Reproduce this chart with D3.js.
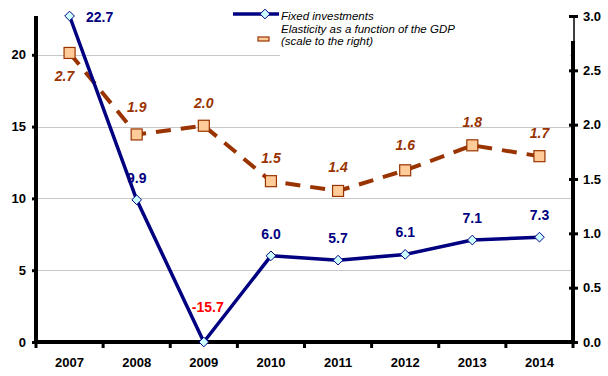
<!DOCTYPE html>
<html>
<head>
<meta charset="utf-8">
<script src="https://cdn.jsdelivr.net/npm/d3@7/dist/d3.min.js"></script>
<style>
  html, body { margin: 0; padding: 0; background: #fff; }
  svg { display: block; font-family: "Liberation Sans", Arial, sans-serif; }
</style>
</head>
<body>
<svg id="chart" width="608" height="376"></svg>
<script>
// Years on the category axis
const years = ["2007", "2008", "2009", "2010", "2011", "2012", "2013", "2014"];
// Fixed investments, % (left scale)
const fixedInvestments = [22.7, 9.9, -15.7, 6.0, 5.7, 6.1, 7.1, 7.3];
// Elasticity as a function of the GDP (right scale)
const elasticity = [2.66, 1.91, 1.99, 1.48, 1.39, 1.58, 1.81, 1.71];
// Axis ticks
const leftTicks = [0, 5, 10, 15, 20];
const rightTicks = [0, 0.5, 1.0, 1.5, 2.0, 2.5, 3.0];
const seriesNames = ["Fixed investments", "Elasticity as a function of the GDP", "(scale to the right)"];

const svg = d3.select("#chart");
const plot = { left: 36, right: 573, top: 16, bottom: 342 };

const x = d3.scaleBand().domain(years).range([plot.left, plot.right]).paddingInner(0).paddingOuter(0);
const cx = d => x(d) + x.bandwidth() / 2;
const yL = d3.scaleLinear().domain([0, 22.7]).range([plot.bottom, plot.top]).clamp(true);
const yR = d3.scaleLinear().domain([0, 3.0]).range([plot.bottom, plot.top]);

const navy = "#000080";
const brown = "#993300";
// One-decimal labels with a plain hyphen as minus sign
const fmt = d3.formatLocale({ decimal: ".", thousands: ",", grouping: [3], currency: ["", ""], minus: "-" }).format(".1f");

// Horizontal gridlines
svg.append("g").selectAll("line").data(leftTicks.filter(t => t > 0)).join("line")
  .attr("x1", plot.left).attr("x2", plot.right)
  .attr("y1", d => Math.round(yL(d)) + 0.5).attr("y2", d => Math.round(yL(d)) + 0.5)
  .attr("stroke", "#c8c8c8").attr("stroke-width", 1);

// Legend background
svg.append("rect").attr("x", 228).attr("y", 0).attr("width", 342).attr("height", 44).attr("fill", "#fff");
svg.append("rect").attr("x", 280).attr("y", 44).attr("width", 290).attr("height", 14).attr("fill", "#fff");

// Left axis
const gL = svg.append("g").attr("transform", `translate(${plot.left},0)`)
  .call(d3.axisLeft(yL).tickValues(leftTicks).tickSize(4).tickPadding(6).tickFormat(d3.format("d")));
gL.select(".domain").remove();
gL.selectAll(".tick line").attr("stroke", "#000").attr("stroke-width", 3);
gL.selectAll(".tick text").attr("font-size", 13).attr("font-weight", "bold").attr("fill", "#000");
svg.append("line").attr("x1", plot.left).attr("x2", plot.left)
  .attr("y1", plot.top).attr("y2", plot.bottom + 2).attr("stroke", "#000").attr("stroke-width", 4);

// Right axis
const gR = svg.append("g").attr("transform", `translate(${plot.right},0)`)
  .call(d3.axisRight(yR).tickValues(rightTicks).tickSize(5).tickPadding(5).tickFormat(d3.format(".1f")));
gR.select(".domain").remove();
gR.selectAll(".tick line").attr("x1", -4).attr("stroke", "#000").attr("stroke-width", 3);
gR.selectAll(".tick text").attr("font-size", 13).attr("font-weight", "bold").attr("fill", "#000");
svg.append("line").attr("x1", plot.right + 1).attr("x2", plot.right + 1)
  .attr("y1", plot.top).attr("y2", 41).attr("stroke", "#000").attr("stroke-width", 1.5);
svg.append("line").attr("x1", plot.right).attr("x2", plot.right)
  .attr("y1", 41).attr("y2", plot.bottom + 2).attr("stroke", "#000").attr("stroke-width", 4);

// Category axis
const gX = svg.append("g").attr("transform", `translate(0,${plot.bottom})`)
  .call(d3.axisBottom(x).tickSize(0).tickPadding(16));
gX.select(".domain").remove();
gX.selectAll(".tick text").attr("font-size", 13).attr("font-weight", "bold").attr("fill", "#000");
const bounds = years.map(d => x(d)).concat([plot.right]);
svg.append("g").selectAll("line").data(bounds).join("line")
  .attr("x1", d => d).attr("x2", d => d)
  .attr("y1", plot.bottom).attr("y2", plot.bottom + 6)
  .attr("stroke", "#000").attr("stroke-width", 3);
svg.append("line").attr("x1", plot.left).attr("x2", plot.right)
  .attr("y1", plot.bottom).attr("y2", plot.bottom).attr("stroke", "#000").attr("stroke-width", 4);

// Elasticity series (dashed, squares)
const lineR = d3.line().x((d, i) => cx(years[i])).y(d => yR(d));
svg.append("path").datum(elasticity).attr("d", lineR)
  .attr("fill", "none").attr("stroke", brown).attr("stroke-width", 4)
  .attr("stroke-dasharray", "15,10");
svg.append("g").selectAll("rect").data(elasticity).join("rect")
  .attr("x", (d, i) => cx(years[i]) - 5.5).attr("y", d => yR(d) - 5.5)
  .attr("width", 11).attr("height", 11)
  .attr("fill", "#ffcc99").attr("stroke", brown).attr("stroke-width", 1.2);

// Fixed investments series (solid, diamonds)
const lineL = d3.line().x((d, i) => cx(years[i])).y(d => yL(d));
svg.append("path").datum(fixedInvestments).attr("d", lineL)
  .attr("fill", "none").attr("stroke", navy).attr("stroke-width", 3.5).attr("stroke-linejoin", "round");
const diamond = d3.symbol().type(d3.symbolDiamond2).size(60);
svg.append("g").selectAll("path").data(fixedInvestments).join("path")
  .attr("transform", (d, i) => `translate(${cx(years[i])},${yL(d)})`)
  .attr("d", diamond)
  .attr("fill", "#ccffff").attr("stroke", navy).attr("stroke-width", 1);

// Data labels: fixed investments
const fiOffsets = [
  { dx: 30, dy: 6 }, { dx: 0, dy: -17 }, { dx: 4, dy: -30 }, { dx: 0, dy: -17 },
  { dx: 0, dy: -17 }, { dx: 0, dy: -17 }, { dx: 0, dy: -17 }, { dx: 0, dy: -17 }
];
svg.append("g").selectAll("text").data(fixedInvestments).join("text")
  .attr("x", (d, i) => cx(years[i]) + fiOffsets[i].dx)
  .attr("y", (d, i) => yL(d) + fiOffsets[i].dy)
  .attr("text-anchor", "middle")
  .attr("font-size", 14).attr("font-weight", "bold")
  .attr("fill", d => d < 0 ? "#ff0000" : navy)
  .text(d => fmt(d));

// Data labels: elasticity
const elOffsets = [
  { dx: -5, dy: 28 }, { dx: 0, dy: -22 }, { dx: 0, dy: -18 }, { dx: 0, dy: -18 },
  { dx: 0, dy: -19 }, { dx: 0, dy: -20 }, { dx: 0, dy: -18 }, { dx: 0, dy: -18 }
];
svg.append("g").selectAll("text").data(elasticity).join("text")
  .attr("x", (d, i) => cx(years[i]) + elOffsets[i].dx)
  .attr("y", (d, i) => yR(d) + elOffsets[i].dy)
  .attr("text-anchor", "middle")
  .attr("font-size", 14).attr("font-weight", "bold").attr("font-style", "italic")
  .attr("fill", brown)
  .text(d => fmt(d));

// Legend
const lg = svg.append("g");
lg.append("line").attr("x1", 233).attr("x2", 279).attr("y1", 14).attr("y2", 14)
  .attr("stroke", navy).attr("stroke-width", 3.5);
lg.append("path").attr("transform", "translate(265,14)").attr("d", diamond)
  .attr("fill", "#ccffff").attr("stroke", navy).attr("stroke-width", 1);
lg.append("rect").attr("x", 258).attr("y", 37).attr("width", 11).attr("height", 4)
  .attr("fill", "#ffcc99").attr("stroke", brown).attr("stroke-width", 1.2);
lg.selectAll("text").data(seriesNames).join("text")
  .attr("x", 281).attr("y", (d, i) => 20 + i * 12.5)
  .attr("font-size", 11.5).attr("font-style", "italic").attr("fill", "#000")
  .text(d => d);
</script>
</body>
</html>
